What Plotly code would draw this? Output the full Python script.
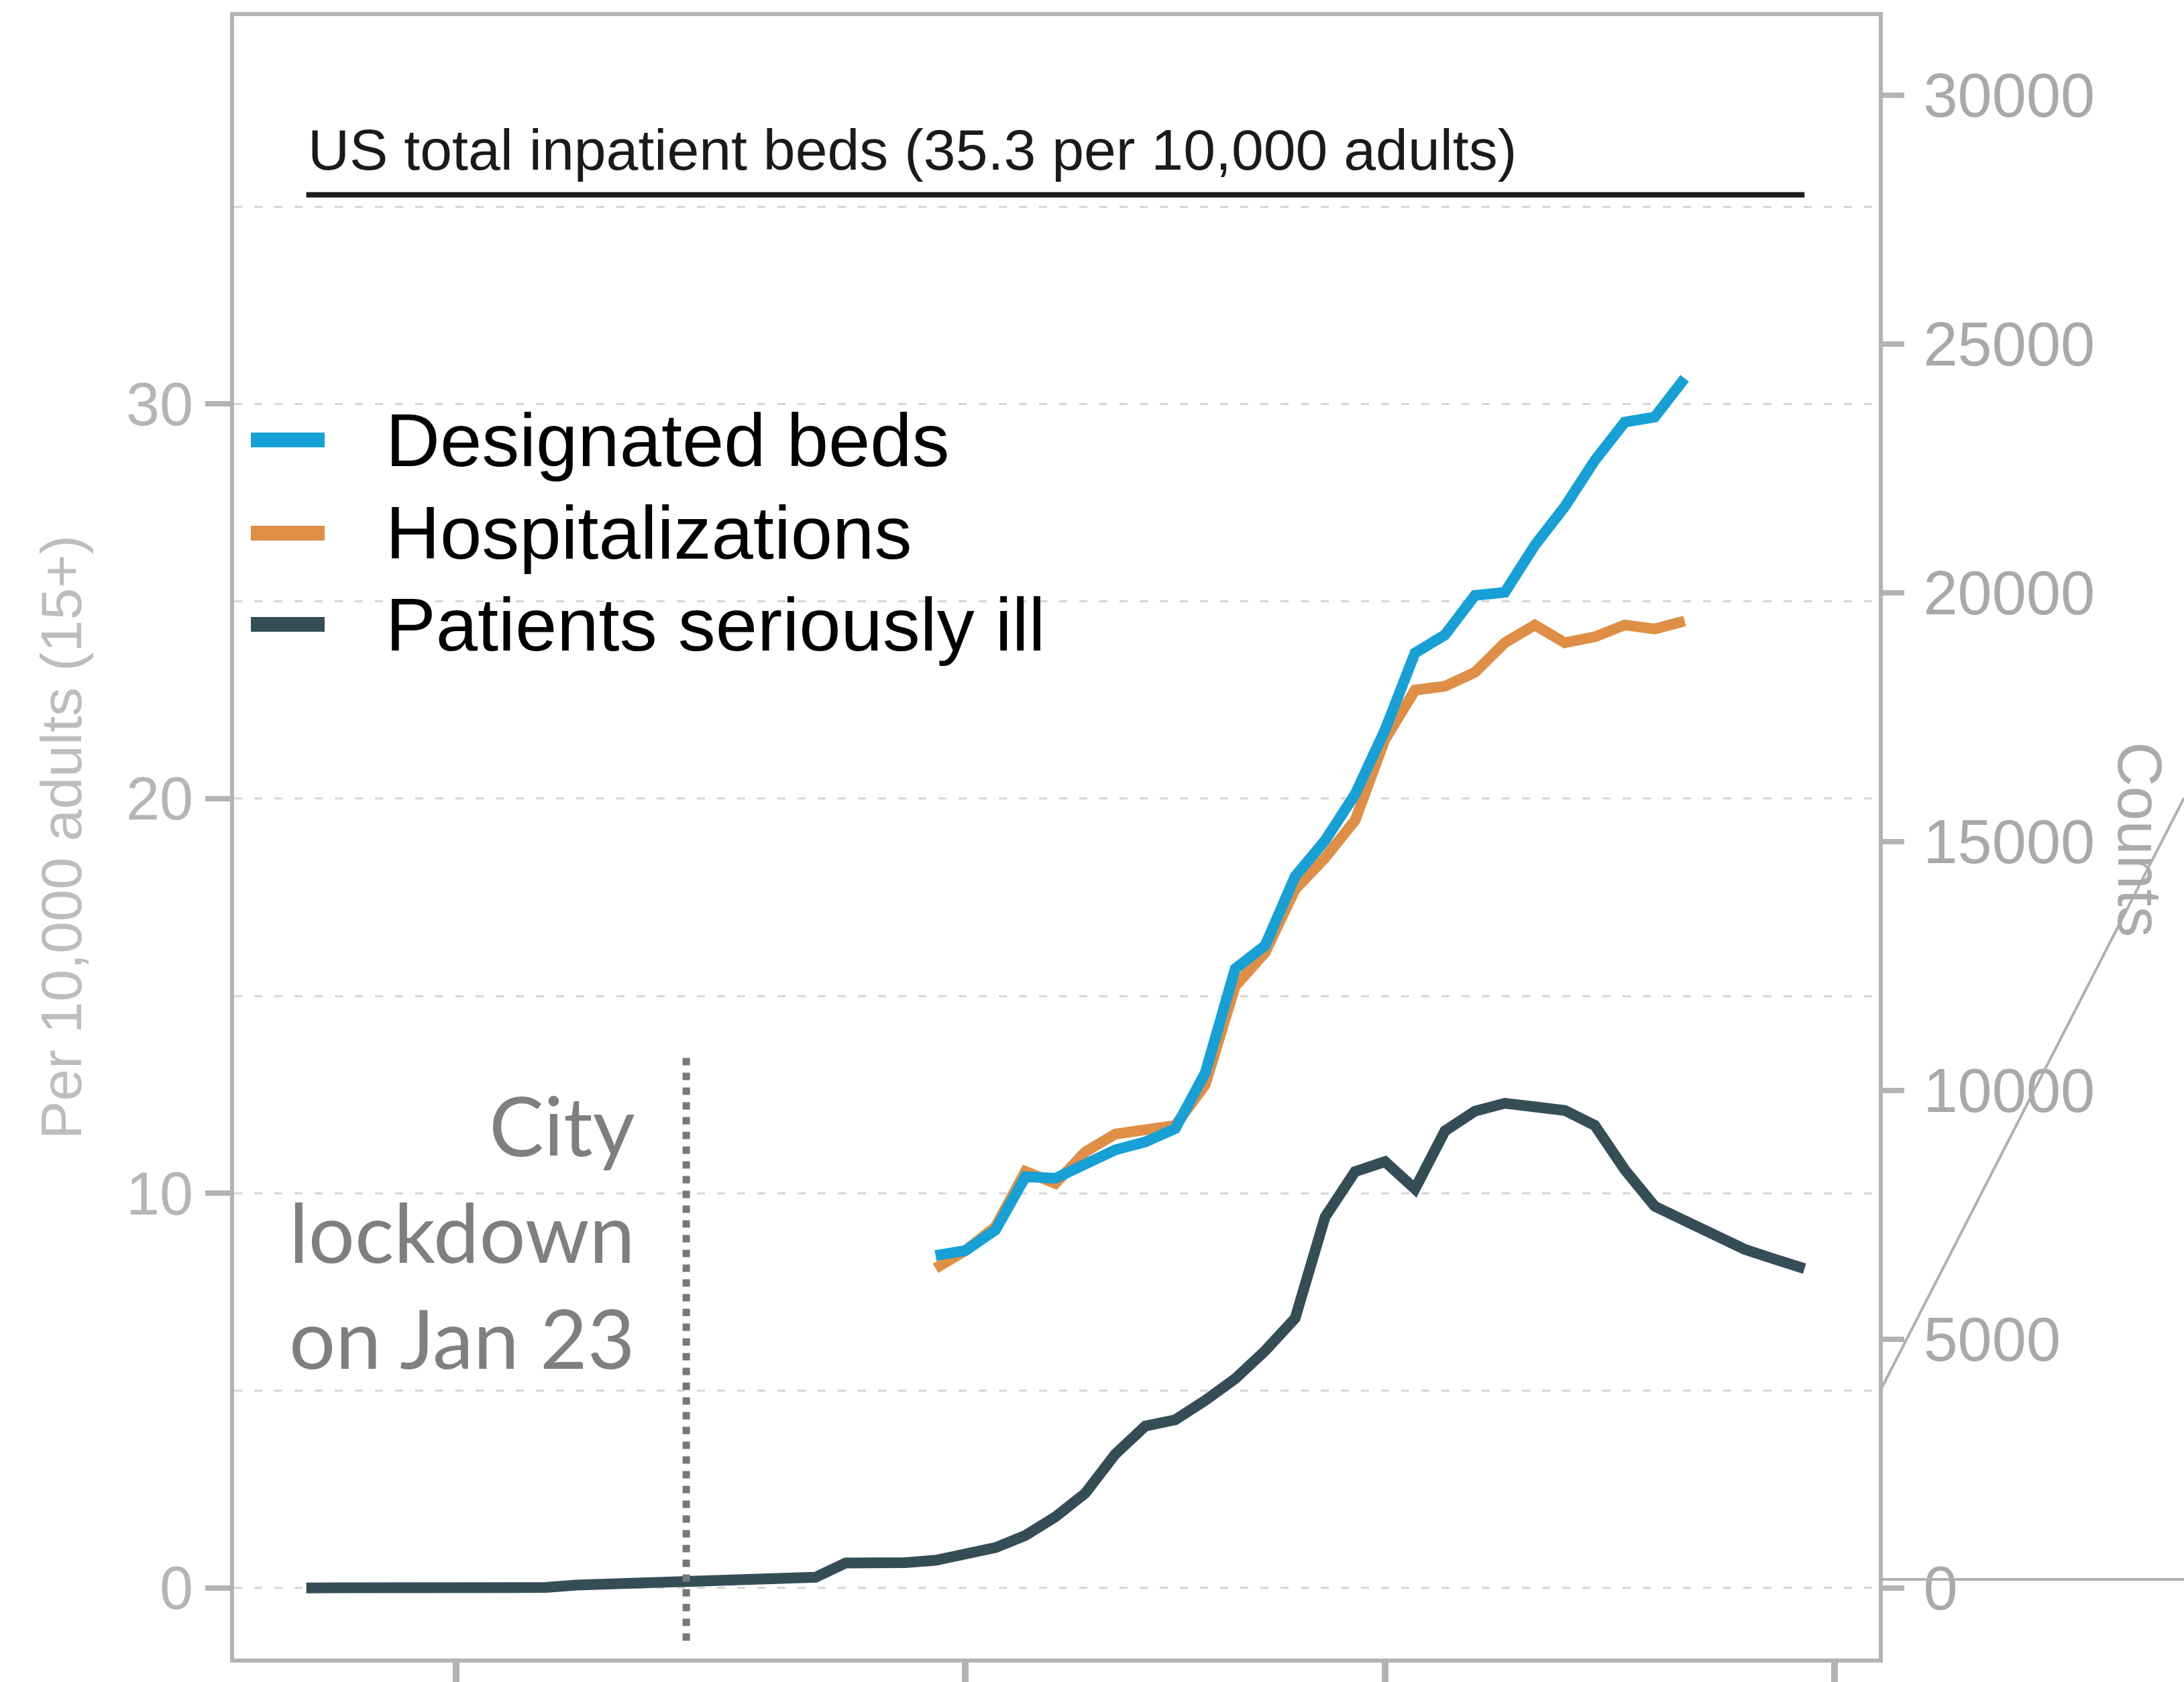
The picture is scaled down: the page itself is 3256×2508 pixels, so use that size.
import plotly.graph_objects as go
import pandas as pd

# ---------------- data (per 10,000 adults aged 15+) ----------------
ill_dates = pd.date_range("2020-01-10", "2020-02-29", freq="D")
seriously_ill = [
    0.00, 0.00, 0.00, 0.00, 0.00, 0.00, 0.00, 0.00, 0.01, 0.07, 0.09,
    0.13, 0.16, 0.17, 0.19, 0.21, 0.26, 0.27, 0.63, 0.63, 0.64, 0.70,
    0.85, 1.02, 1.33, 1.80, 2.40, 3.39, 4.10, 4.26, 4.75, 5.30, 6.01,
    6.83, 9.40, 10.55, 10.80, 10.11, 11.58, 12.08, 12.28, 12.19, 12.10,
    11.72, 10.60, 9.67, 9.29, 8.91, 8.58, 8.33, 8.09,
]

bed_dates = pd.date_range("2020-01-31", "2020-02-25", freq="D")
designated_beds = [
    8.42, 8.55, 9.07, 10.42, 10.38, 10.77, 11.10, 11.30, 11.64, 13.05,
    15.69, 16.28, 18.03, 18.94, 20.11, 21.74, 23.69, 24.15, 25.15, 25.23,
    26.42, 27.40, 28.57, 29.54, 29.67, 30.65,
]
hospitalizations = [
    8.10, 8.55, 9.15, 10.55, 10.25, 11.05, 11.50, 11.62, 11.72, 12.75,
    15.25, 16.10, 17.70, 18.50, 19.45, 21.50, 22.75, 22.85, 23.20, 23.95,
    24.40, 23.95, 24.10, 24.40, 24.30, 24.50,
]

us_beds_rate = 35.3
us_beds_dates = ["2020-01-10", "2020-02-29"]
lockdown_date = "2020-01-22 16:20"

x_ticks = ["2020-01-15", "2020-02-01", "2020-02-15", "2020-03-01"]
left_ticks = [0, 10, 20, 30]
right_ticks = [0, 5000, 10000, 15000, 20000, 25000, 30000]
counts_per_unit = 793.0  # counts per (1 per 10,000 adults)

series_names = ["Designated beds", "Hospitalizations", "Patients seriously ill"]
series_colors = ["#17a0d6", "#de8f45", "#354d57"]

# ---------------- figure ----------------
W, H = 3256, 2508
ML, MR, MT, MB = 349, 455, 24, 35
PW, PH = W - ML - MR, H - MT - MB

def px(xf):
    return (xf - ML) / PW

def py(yf):
    return (H - MB - yf) / PH

y_range = [-1.79, 39.83]
LW = 16

fig = go.Figure()

fig.add_trace(go.Scatter(x=bed_dates, y=hospitalizations, mode="lines",
                         name=series_names[1],
                         line=dict(color=series_colors[1], width=LW),
                         showlegend=False))
fig.add_trace(go.Scatter(x=bed_dates, y=designated_beds, mode="lines",
                         name=series_names[0],
                         line=dict(color=series_colors[0], width=LW),
                         showlegend=False))
fig.add_trace(go.Scatter(x=ill_dates, y=seriously_ill, mode="lines",
                         name=series_names[2],
                         line=dict(color=series_colors[2], width=LW),
                         showlegend=False))
fig.add_trace(go.Scatter(x=us_beds_dates, y=[us_beds_rate, us_beds_rate],
                         mode="lines", line=dict(color="#1a1a1a", width=8),
                         showlegend=False, hoverinfo="skip"))
# counts scale (right axis) - same series in absolute counts, invisible
fig.add_trace(go.Scatter(x=ill_dates,
                         y=[v * counts_per_unit for v in seriously_ill],
                         yaxis="y2", mode="lines", opacity=0,
                         line=dict(width=0), showlegend=False,
                         hoverinfo="skip"))

grid_color = "#d6d6d6"
axis_color = "#b3b3b3"

fig.update_layout(
    width=W, height=H,
    margin=dict(l=ML, r=MR, t=MT, b=MB, autoexpand=False),
    paper_bgcolor="white", plot_bgcolor="white",
    font=dict(family="Liberation Sans, Arial, sans-serif"),
    showlegend=False,
    xaxis=dict(
        type="date",
        range=["2020-01-07 14:10", "2020-03-02 11:30"],
        tickvals=x_ticks, showticklabels=False,
        ticks="outside", ticklen=45, tickwidth=10, tickcolor=axis_color,
        showgrid=False, zeroline=False,
        showline=True, linecolor=axis_color, linewidth=6, mirror=True,
    ),
    yaxis=dict(
        range=y_range,
        tickvals=left_ticks,
        ticks="outside", ticklen=37, tickwidth=8, tickcolor=axis_color,
        tickfont=dict(size=90, color="#b5b5b5"),
        showgrid=True, gridcolor=grid_color, gridwidth=3, griddash="12px,18px",
        minor=dict(dtick=5, tick0=0, showgrid=True, gridcolor=grid_color,
                   gridwidth=3, griddash="12px,18px", ticks=""),
        zeroline=False,
        showline=True, linecolor=axis_color, linewidth=6, mirror=True,
        title=dict(text="Per 10,000 adults (15+)",
                   font=dict(size=86, color="#bdbdbd"), standoff=40),
    ),
    yaxis2=dict(
        overlaying="y", side="right", anchor="x",
        range=[y_range[0] * counts_per_unit, y_range[1] * counts_per_unit],
        tickvals=right_ticks, tickformat="d", ticklabelstandoff=10,
        ticks="outside", ticklen=37, tickwidth=8, tickcolor=axis_color,
        tickfont=dict(size=92, color="#a9a9a9"),
        showgrid=False, zeroline=False, showline=False,
    ),
)

# Lockdown vertical dotted line
fig.add_shape(type="line", xref="x", yref="y",
              x0=lockdown_date, x1=lockdown_date, y0=-1.34, y1=13.59,
              line=dict(color="#777777", width=11, dash="dot"))

annotations = []
# US total beds label
annotations.append(dict(
    xref="x", yref="y", x=us_beds_dates[0], y=36.45,
    xanchor="left", yanchor="middle", showarrow=False,
    text="US total inpatient beds (35.3 per 10,000 adults)",
    font=dict(size=86, color="#1a1a1a", family="Liberation Sans, Arial, sans-serif")))

# Lockdown label
annotations.append(dict(
    xref="paper", yref="paper", x=px(949), y=py(1836),
    xanchor="right", yanchor="middle", align="right", showarrow=False,
    text="City<br>lockdown<br>on Jan 23",
    font=dict(size=122, color="#7f7f7f", family="Lato, Open Sans, sans-serif")))

# Manual legend
leg_y = [656, 795, 931]
for name, color, yf in zip(series_names, series_colors, leg_y):
    fig.add_shape(type="line", xref="paper", yref="paper",
                  x0=px(374), x1=px(484), y0=py(yf), y1=py(yf),
                  line=dict(color=color, width=22))
    annotations.append(dict(
        xref="paper", yref="paper", x=px(573), y=py(yf),
        xanchor="left", yanchor="middle", showarrow=False, text=name,
        font=dict(size=112, color="black",
                  family="Liberation Sans, Arial, sans-serif")))

# Right-axis title "Counts"
annotations.append(dict(
    xref="paper", yref="paper", x=px(3190), y=py(1252),
    xanchor="center", yanchor="middle", showarrow=False, textangle=90,
    text="Counts", font=dict(size=92, color="#ababab")))

fig.update_layout(annotations=annotations)

# stray axis lines at right edge of the original figure
fig.add_shape(type="line", xref="paper", yref="paper",
              x0=px(2803), y0=py(2074), x1=px(3256), y1=py(1190),
              line=dict(color="#b0b0b0", width=4))
fig.add_shape(type="line", xref="paper", yref="paper",
              x0=px(2803), y0=py(2355), x1=px(3256), y1=py(2355),
              line=dict(color="#b0b0b0", width=4))

fig.write_html("out.html", config={"displayModeBar": False},
               post_script="document.body.style.margin='0';")
